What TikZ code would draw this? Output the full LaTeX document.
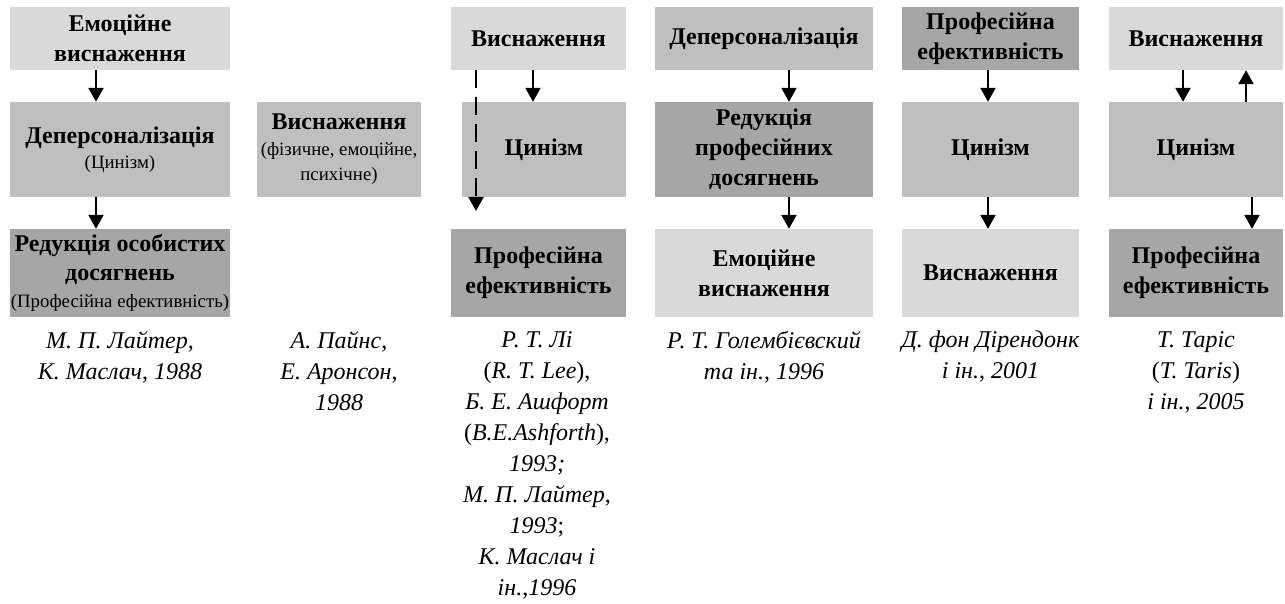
\documentclass[tikz,border=0pt]{standalone}
\usepackage{fontspec}
\setmainfont{Liberation Serif}
\usetikzlibrary{arrows.meta}
\definecolor{lightbox}{HTML}{D9D9D9}
\definecolor{midbox}{HTML}{BFBFBF}
\definecolor{darkbox}{HTML}{A6A6A6}
\begin{document}
\begin{tikzpicture}[x=1pt,y=-1pt,
  box/.style={inner sep=0pt, align=center,
    font=\bfseries\fontsize{24}{30}\selectfont},
  topbox/.style={box, minimum height=63pt},
  midrow/.style={box, minimum height=95pt},
  botbox/.style={box, minimum height=88pt},
  citetext/.style={inner sep=0pt, align=center, anchor=north,
    font=\fontsize{24}{31}\selectfont},
  arr/.style={line width=2.2pt, -{Triangle[length=14pt,width=15pt]}},
  dasharr/.style={arr, dash pattern=on 18pt off 9pt}]
\useasboundingbox (0,0) rectangle (1285,604);
\newcommand\smalltxt[1]{{\normalfont\fontsize{18.8}{24}\selectfont #1}}

% column 1: Leiter & Maslach
\node[topbox, fill=lightbox, minimum width=220pt] (A1) at (120,38.5) {Емоційне\\виснаження};
\node[midrow, fill=midbox, minimum width=220pt] (A2) at (120,149.5) {Деперсоналізація\\[-5pt]\smalltxt{(Цинізм)}};
\node[botbox, fill=darkbox, minimum width=220pt] (A3) at (120,273) {Редукція особистих\\[-1pt]досягнень\\[-3pt]\smalltxt{(Професійна ефективність)}};
\draw[arr] (A1.south -| 96,0) -- (A2.north -| 96,0);
\draw[arr] (A2.south -| 96,0) -- (A3.north -| 96,0);
\node[citetext] (capA) at (120,331) {\textit{М. П. Лайтер}, \\ \textit{К. Маслач}, \textit{1988}};

% column 2: Pines & Aronson
\node[midrow, fill=midbox, minimum width=164pt] (B1) at (339,149.5) {Виснаження\\[-4pt]\smalltxt{(фізичне, емоційне,}\\[-5pt]\smalltxt{психічне)}};
\node[citetext] (capB) at (339,331) {\textit{А. Пайнс}, \\ \textit{Е. Аронсон}, \\ \textit{1988}};

% column 3: Lee & Ashforth; Leiter; Maslach
\node[topbox, fill=lightbox, minimum width=175pt] (C1) at (538.5,38.5) {Виснаження};
\node[midrow, fill=midbox, minimum width=164pt] (C2) at (544,149.5) {Цинізм};
\node[botbox, fill=darkbox, minimum width=175pt] (C3) at (538.5,273) {Професійна\\ефективність};
\coordinate (Cd) at (476,211);
\draw[arr] (C1.south -| 533,0) -- (C2.north -| 533,0);
\draw[dasharr] (C1.south -| Cd) -- (Cd);
\node[citetext] (capC) at (537,331) {\textit{Р. Т. Лі}\\ (\textit{R. T. Lee}), \\ \textit{Б. Е. Ашфорт}\\ (\textit{B.E.Ashforth}),\\ \textit{1993;}\\ \textit{М. П. Лайтер}, \\ \textit{1993};\\ \textit{К. Маслач і}\\ \textit{ін.},\textit{1996}};

% column 4: Golembiewski et al.
\node[topbox, fill=midbox, minimum width=218pt] (D1) at (764,38.5) {Деперсоналізація};
\node[midrow, fill=darkbox, minimum width=218pt] (D2) at (764,149.5) {Редукція\\професійних\\досягнень};
\node[botbox, fill=lightbox, minimum width=218pt] (D3) at (764,273) {Емоційне\\виснаження};
\draw[arr] (D1.south -| 789,0) -- (D2.north -| 789,0);
\draw[arr] (D2.south -| 789,0) -- (D3.north -| 789,0);
\node[citetext] (capD) at (764,331) {\textit{Р. Т. Голембієвский}\\ \textit{та ін.}, \textit{1996}};

% column 5: van Dierendonck et al.
\node[topbox, fill=darkbox, minimum width=177pt] (E1) at (990.5,38.5) {Професійна\\ефективність};
\node[midrow, fill=midbox, minimum width=177pt] (E2) at (990.5,149.5) {Цинізм};
\node[botbox, fill=lightbox, minimum width=177pt] (E3) at (990.5,273) {Виснаження};
\draw[arr] (E1.south -| 988,0) -- (E2.north -| 988,0);
\draw[arr] (E2.south -| 988,0) -- (E3.north -| 988,0);
\node[citetext] (capE) at (990.5,331) {\textit{Д. фон Дірендонк}\\ \textit{і ін.}, \textit{2001}};

% column 6: Taris et al.
\node[topbox, fill=lightbox, minimum width=174pt] (F1) at (1196,38.5) {Виснаження};
\node[midrow, fill=midbox, minimum width=174pt] (F2) at (1196,149.5) {Цинізм};
\node[botbox, fill=darkbox, minimum width=174pt] (F3) at (1196,273) {Професійна\\ефективність};
\draw[arr] (F1.south -| 1183,0) -- (F2.north -| 1183,0);
\draw[arr] (F2.north -| 1246,0) -- (F1.south -| 1246,0);
\draw[arr] (F2.south -| 1252,0) -- (F3.north -| 1252,0);
\node[citetext] (capF) at (1196,331) {\textit{Т. Таріс}\\ (\textit{T. Taris})\\ \textit{і ін.}, \textit{2005}};
\end{tikzpicture}
\end{document}
